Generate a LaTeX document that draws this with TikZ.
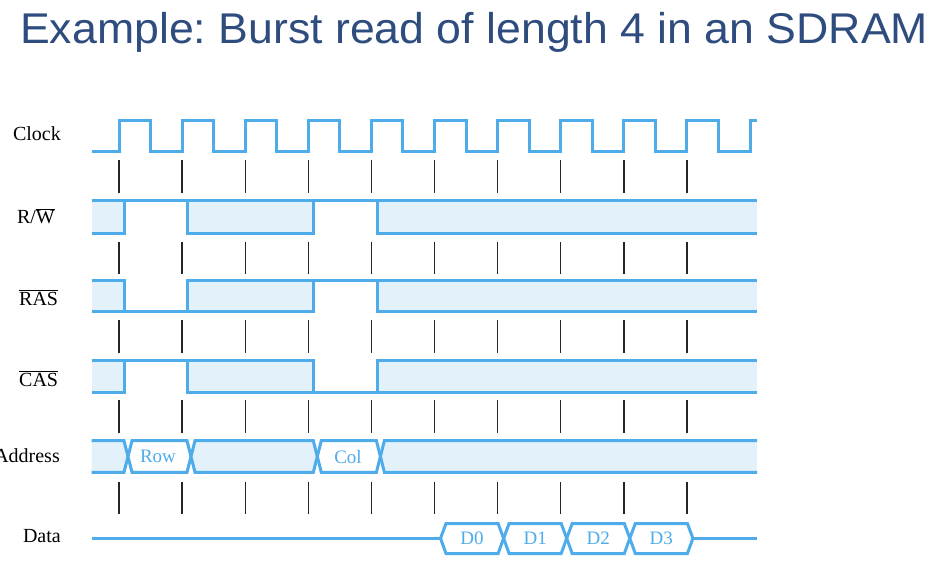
\documentclass[tikz,border=0pt]{standalone}
\usepackage{fontspec}
\setmainfont{Liberation Serif}
\newfontfamily\titlefont{Liberation Sans}
\definecolor{sig}{RGB}{79,172,234}
\definecolor{sigfill}{RGB}{227,241,250}
\definecolor{titleblue}{RGB}{46,76,126}
\frenchspacing
\begin{document}
\begin{tikzpicture}[x=1pt,y=-1pt,
  sigline/.style={draw=sig, line width=3pt, line join=miter},
  clktick/.style={draw=black!85, line width=1.4pt},
  lbl/.style={anchor=base east, inner sep=0pt, font=\fontsize{20}{24}\selectfont},
  buslbl/.style={text=sig, inner sep=0pt, font=\fontsize{19}{22}\selectfont}]
\useasboundingbox (0,0) rectangle (939,573);

% title
\node[anchor=base west, inner sep=0pt, text=titleblue,
      font=\titlefont\fontsize{43}{50}\selectfont] (title) at (20,43.3)
  {\scalebox{1.038}[1]{Example: Burst read of length 4 in an SDRAM}};

% labels
\node[lbl] (lclk) at (61,140.7) {Clock};
\node[lbl] (lrw) at (55,223.3) {R/$\overline{\mbox{W}}$};
\node[lbl] (lras) at (58.3,305) {$\overline{\mbox{RAS}}$};
\node[lbl] (lcas) at (58.3,386) {$\overline{\mbox{CAS}}$};
\node[lbl] (ladr) at (60,462.7) {Address};
\node[lbl] (ldat) at (61,542.7) {Data};

% clock
\draw[sigline] (91.7,151.7)
  \foreach \k in {0,...,9} {
    -- ({119+63.1*\k},151.7) -- ({119+63.1*\k},120)
    -- ({150.5+63.1*\k},120) -- ({150.5+63.1*\k},151.7) }
  -- (750,151.7) -- (750,120) -- (757,120);

% ticks
\foreach \k in {0,...,9} {
  \foreach \a/\b in {160/193,242/274,320/353,400/433,482/514} {
    \draw[clktick] ({119+63.1*\k},\a) -- ({119+63.1*\k},\b);
  }
}

% fills of control rows
\foreach \t/\b in {200.7/233.3,280.7/311.7,360.7/392.7} {
  \fill[sigfill] (91.7,\t) rectangle (124,\b);
  \fill[sigfill] (187,\t) rectangle (313,\b);
  \fill[sigfill] (377,\t) rectangle (757,\b);
}

% R/W
\draw[sigline] (91.7,200.7) -- (757,200.7);
\draw[sigline] (91.7,233.3) -- (124,233.3) -- (124,200.7);
\draw[sigline] (187,200.7) -- (187,233.3) -- (313,233.3) -- (313,200.7);
\draw[sigline] (377,200.7) -- (377,233.3) -- (757,233.3);

% RAS
\draw[sigline] (91.7,280.7) -- (124,280.7) -- (124,311.7) -- (91.7,311.7);
\draw[sigline] (124,311.7) -- (313,311.7) -- (313,280.7);
\draw[sigline] (187,311.7) -- (187,280.7) -- (757,280.7);
\draw[sigline] (377,280.7) -- (377,311.7) -- (757,311.7);

% CAS
\draw[sigline] (91.7,392.7) -- (124,392.7) -- (124,360.7) -- (91.7,360.7);
\draw[sigline] (124,360.7) -- (313,360.7) -- (313,392.7);
\draw[sigline] (187,360.7) -- (187,392.7) -- (757,392.7);
\draw[sigline] (377,392.7) -- (377,360.7) -- (757,360.7);

% Address bus
\fill[sigfill] (91.7,440.7) -- (124,440.7) -- (128,456.5) -- (124,472.3) -- (91.7,472.3) -- cycle;
\draw[sigline] (91.7,440.7) -- (124,440.7) -- (128,456.5) -- (124,472.3) -- (91.7,472.3);
\draw[sigline, fill=white] (128,456.5) -- (132,440.7) -- (187,440.7) -- (191,456.5) -- (187,472.3) -- (132,472.3) -- cycle;
\draw[sigline, fill=sigfill] (191,456.5) -- (195,440.7) -- (313.3,440.7) -- (317.3,456.5) -- (313.3,472.3) -- (195,472.3) -- cycle;
\draw[sigline, fill=white] (317.3,456.5) -- (321.3,440.7) -- (376.4,440.7) -- (380.4,456.5) -- (376.4,472.3) -- (321.3,472.3) -- cycle;
\fill[sigfill] (380.4,456.5) -- (384.4,440.7) -- (757,440.7) -- (757,472.3) -- (384.4,472.3) -- cycle;
\draw[sigline] (757,440.7) -- (384.4,440.7) -- (380.4,456.5) -- (384.4,472.3) -- (757,472.3);
\node[buslbl] (row) at (158,456.5) {Row};
\node[buslbl] (col) at (348,456.5) {Col};

% Data bus
\draw[sigline] (91.7,538.3) -- (440.5,538.3);
\foreach \i/\t in {0/D0,1/D1,2/D2,3/D3} {
  \pgfmathsetmacro\xl{440.5+63.1*\i}
  \pgfmathsetmacro\xr{\xl+63.1}
  \draw[sigline, fill=white] (\xl,538.3) -- (\xl+5.5,523.5) -- (\xr-5.5,523.5)
    -- (\xr,538.3) -- (\xr-5.5,553.5) -- (\xl+5.5,553.5) -- cycle;
  \node[buslbl] (d\i) at ({(\xl+\xr)/2},538.3) {\t};
}
\draw[sigline] (692.9,538.3) -- (757,538.3);
\end{tikzpicture}
\end{document}
